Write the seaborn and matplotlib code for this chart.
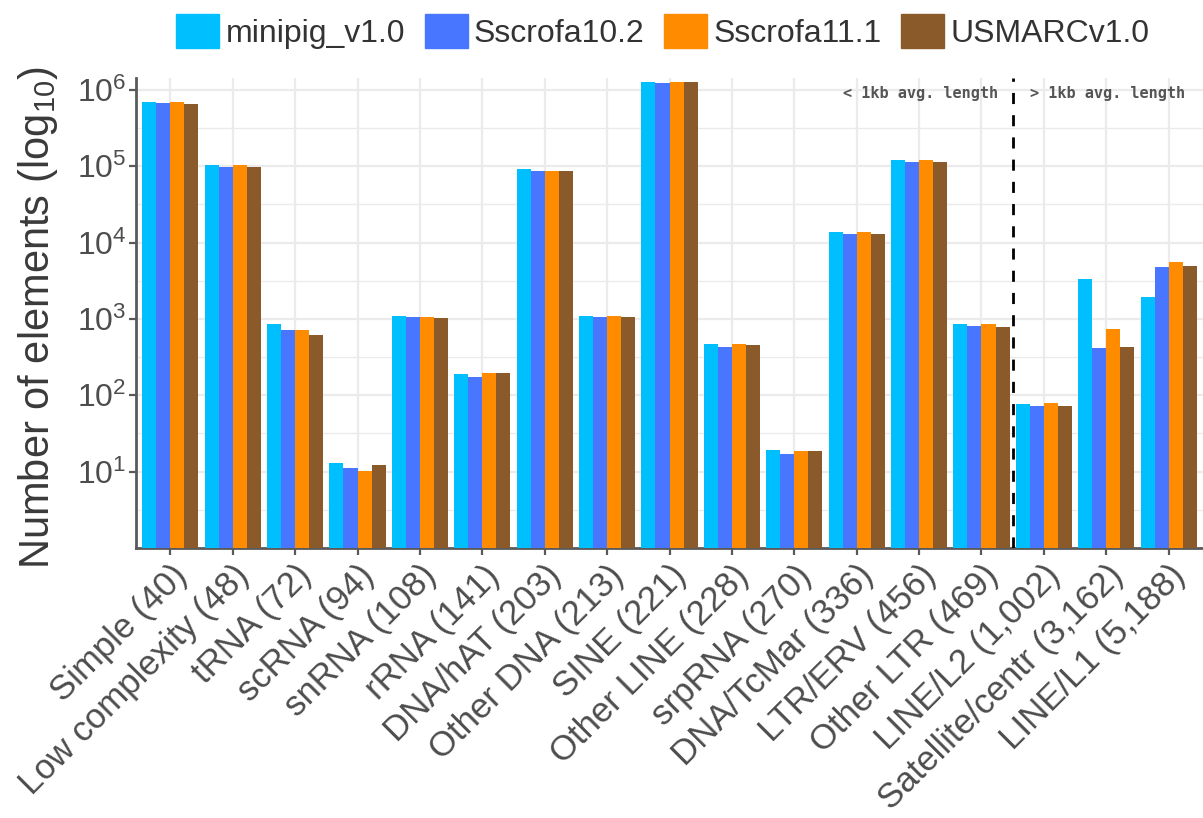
import numpy as np
import pandas as pd
import matplotlib
matplotlib.use("Agg")
import matplotlib.pyplot as plt
from matplotlib.ticker import FixedLocator, NullFormatter
import seaborn as sns

# ----------- DATA ------------

categories = ['Simple (40)', 'Low complexity (48)', 'tRNA (72)', 'scRNA (94)',
              'snRNA (108)', 'rRNA (141)', 'DNA/hAT (203)', 'Other DNA (213)',
              'SINE (221)', 'Other LINE (228)', 'srpRNA (270)', 'DNA/TcMar (336)',
              'LTR/ERV (456)', 'Other LTR (469)', 'LINE/L2 (1,002)',
              'Satellite/centr (3,162)', 'LINE/L1 (5,188)']

assemblies = ['minipig_v1.0', 'Sscrofa10.2', 'Sscrofa11.1', 'USMARCv1.0']

minipig = [703000, 104000, 857, 13.0, 1110, 188, 91600, 1110, 1270000,
           469, 19.4, 13600, 120000, 847, 76, 3300, 1940]
sscrofa10 = [670000, 99000, 708, 11.2, 1060, 174, 87000, 1060, 1220000,
             428, 17.0, 12900, 115000, 807, 72.4, 411, 4800]
sscrofa11 = [703000, 104000, 708, 10.2, 1060, 196, 87000, 1110, 1270000,
             469, 18.4, 13600, 120000, 847, 79.4, 738, 5500]
usmarc = [650000, 99000, 617, 12.4, 1016, 196, 87000, 1060, 1270000,
          450, 18.4, 12900, 114000, 775, 72.4, 428, 4980]

colors = ['#00BFFF', '#4876FF', '#FF8C00', '#8B5A2B']

df = pd.DataFrame({
    'category': categories * 4,
    'assembly': np.repeat(assemblies, len(categories)),
    'count': minipig + sscrofa10 + sscrofa11 + usmarc,
})

# ----------- STYLE ------------

sns.set_theme(style='whitegrid')
plt.rcParams['font.family'] = ['Liberation Sans', 'DejaVu Sans']
plt.rcParams['mathtext.fontset'] = 'custom'
plt.rcParams['mathtext.rm'] = 'Liberation Sans'

fig = plt.figure(figsize=(12.03, 8.18), dpi=100)
ax = fig.add_axes([136 / 1203, 1 - 548 / 818, (1203 - 136) / 1203, (548 - 78) / 818])
ax.set_yscale('log')

sns.barplot(data=df, x='category', y='count', hue='assembly', order=categories,
            hue_order=assemblies, palette=colors, width=0.9, gap=0,
            saturation=1, linewidth=0, ax=ax, zorder=3)

ax.set_xlim(-0.55, 16.55)
ax.set_ylim(1, 10 ** 6.157)

# axes / grid
grid_c = '#EBEBEB'
ax.set_yticks([10 ** k for k in range(1, 7)])
ax.set_yticklabels([r'$\mathdefault{10^{%d}}$' % k for k in range(1, 7)])
ax.yaxis.set_minor_locator(FixedLocator([10 ** (k + 0.5) for k in range(0, 6)]))
ax.yaxis.set_minor_formatter(NullFormatter())
ax.grid(True, which='major', axis='both', color=grid_c, lw=1.6, zorder=0)
ax.grid(True, which='minor', axis='y', color=grid_c, lw=1.0, zorder=0)
ax.set_axisbelow(True)

for s in ['top', 'right']:
    ax.spines[s].set_visible(False)
for s in ['left', 'bottom']:
    ax.spines[s].set_color('#5A5A5A')
    ax.spines[s].set_linewidth(2)

ax.tick_params(axis='both', which='major', direction='out', length=5, width=1.6,
               color='#5A5A5A', labelcolor='#4D4D4D', left=True, bottom=True)
ax.tick_params(axis='y', which='minor', length=0, left=False)
ax.tick_params(axis='y', labelsize=23, pad=2)
ax.tick_params(axis='x', labelsize=25, pad=3)
plt.setp(ax.get_xticklabels(), rotation=45, ha='right', va='top',
         rotation_mode='anchor')

ax.set_xlabel('')
ax.set_ylabel(r'Number of elements (log$_{\mathdefault{10}}$)', fontsize=30,
              color='#3A3A3A', labelpad=10)
ax.yaxis.set_label_coords(-0.071, 0.49)

# separator between short and long elements
ax.axvline(13.5, color='black', lw=2, ls=(0, (4, 4)), zorder=4)
ax.text(13.27, 10 ** 5.96, '< 1kb avg. length', ha='right', va='center',
        family='DejaVu Sans Mono', weight='bold', fontsize=11, color='#555555')
ax.text(13.78, 10 ** 5.96, '> 1kb avg. length', ha='left', va='center',
        family='DejaVu Sans Mono', weight='bold', fontsize=11, color='#555555')

ax.legend_.remove()
handles = [plt.Rectangle((0, 0), 1, 1, color=c) for c in colors]
fig.legend(handles, assemblies, loc='center', bbox_to_anchor=(0.551, 0.962),
           ncol=4, frameon=False, fontsize=23, handlelength=1.35,
           handleheight=1.3, handletextpad=0.2, columnspacing=0.6,
           labelcolor='#333333', borderpad=0, borderaxespad=0)

fig.savefig('out.png', dpi=100)
